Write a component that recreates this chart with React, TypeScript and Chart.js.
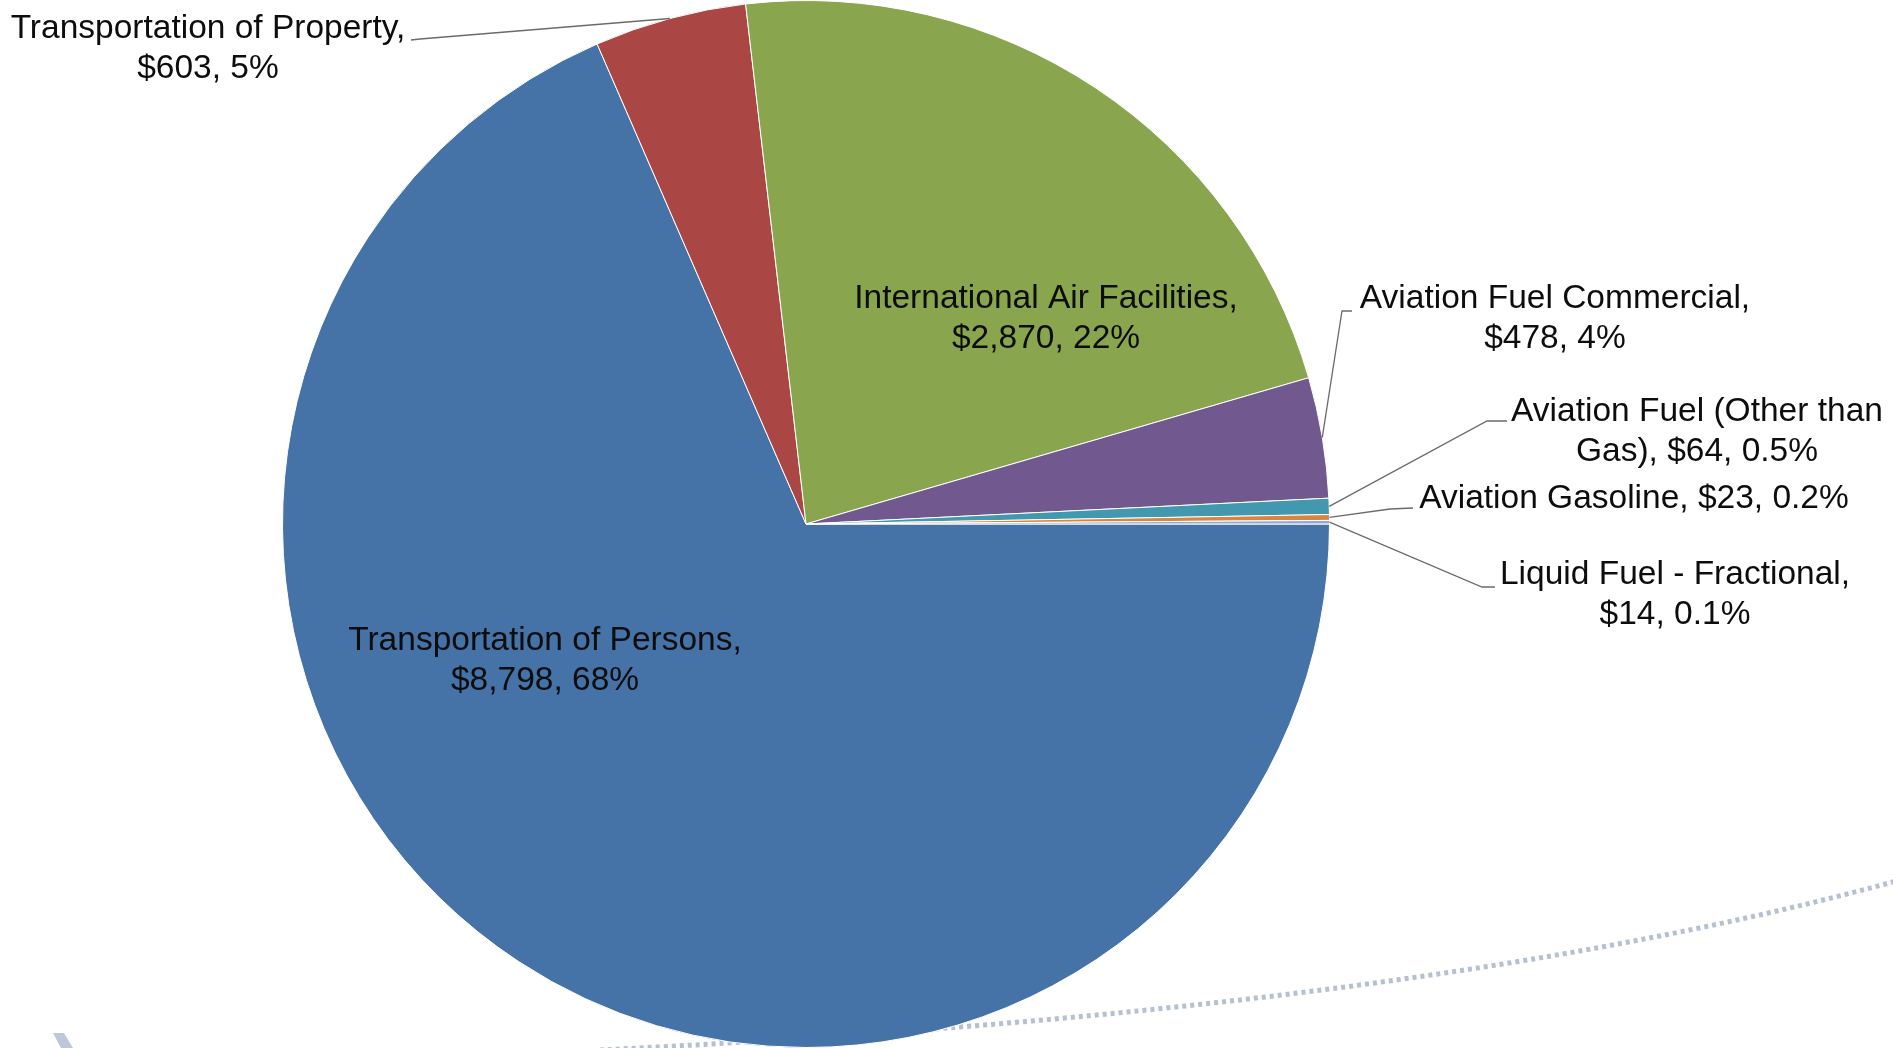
import React, { useEffect, useRef } from "react";
import { Chart, registerables } from "chart.js";

Chart.register(...registerables);

const categories = [
  "Transportation of Persons",
  "Transportation of Property",
  "International Air Facilities",
  "Aviation Fuel Commercial",
  "Aviation Fuel (Other than Gas)",
  "Aviation Gasoline",
  "Liquid Fuel - Fractional",
];
const values = [8798, 603, 2870, 478, 64, 23, 14];
const percentLabels = ["68%", "5%", "22%", "4%", "0.5%", "0.2%", "0.1%"];
const colors = ["#4572A7", "#AA4643", "#89A54E", "#71588F", "#4198AF", "#DB843D", "#93A9CF"];

// label text lines (as Excel wrapped them)
const labelLines: string[][] = [
  ["Transportation of Persons,", "$8,798, 68%"],
  ["Transportation of Property,", "$603, 5%"],
  ["International Air Facilities,", "$2,870, 22%"],
  ["Aviation Fuel Commercial,", "$478, 4%"],
  ["Aviation Fuel (Other than", "Gas), $64, 0.5%"],
  ["Aviation Gasoline, $23, 0.2%"],
  ["Liquid Fuel - Fractional,", "$14, 0.1%"],
];

// layout: label centre x, first-line y, and leader-line start points (null = inside label)
const labelLayout: { x: number; y: number; leader: number[][] | null }[] = [
  { x: 545, y: 641, leader: null },
  { x: 208, y: 29, leader: [[411, 40], [420, 39]] },
  { x: 1046, y: 299, leader: null },
  { x: 1555, y: 299, leader: [[1352, 311], [1342, 311]] },
  { x: 1697, y: 412, leader: [[1507, 421], [1487, 421]] },
  { x: 1634, y: 499, leader: [[1413, 508], [1390, 509]] },
  { x: 1675, y: 575, leader: [[1495, 587], [1482, 587]] },
];

const FONT = '33.5px "Liberation Sans", Arial, sans-serif';
const LINE_H = 40;

const decorPlugin = {
  id: "decor",
  beforeDatasetsDraw(chart: any) {
    const ctx = chart.ctx;
    ctx.save();
    // dotted template curve
    ctx.strokeStyle = "#B3C1D1";
    ctx.lineWidth = 5;
    ctx.setLineDash([4, 4]);
    ctx.beginPath();
    ctx.moveTo(600, 1050);
    ctx.bezierCurveTo(1000, 1030, 1500, 990, 1900, 880);
    ctx.stroke();
    ctx.setLineDash([]);
    // slanted shape bottom-left
    ctx.fillStyle = "#BCC8D6";
    ctx.beginPath();
    ctx.moveTo(53, 1033);
    ctx.lineTo(64, 1033);
    ctx.lineTo(73, 1048);
    ctx.lineTo(61, 1048);
    ctx.closePath();
    ctx.fill();
    ctx.restore();
  },
};

const labelPlugin = {
  id: "pieLabels",
  afterDraw(chart: any) {
    const ctx = chart.ctx;
    const arcs = chart.getDatasetMeta(0).data;
    ctx.save();
    ctx.font = FONT;
    ctx.fillStyle = "#0d0d0d";
    ctx.textAlign = "center";
    ctx.textBaseline = "middle";
    arcs.forEach((arc: any, i: number) => {
      const lay = labelLayout[i];
      const lines = labelLines[i];
      lines.forEach((t, k) => ctx.fillText(t, lay.x, lay.y + k * LINE_H));
      if (lay.leader) {
        const p = arc.getProps(["x", "y", "startAngle", "endAngle", "outerRadius"], true);
        const mid = (p.startAngle + p.endAngle) / 2;
        const ax = p.x + Math.cos(mid) * p.outerRadius;
        const ay = p.y + Math.sin(mid) * p.outerRadius;
        ctx.strokeStyle = "#6b6b6b";
        ctx.lineWidth = 1.3;
        ctx.beginPath();
        ctx.moveTo(lay.leader[0][0], lay.leader[0][1]);
        for (let j = 1; j < lay.leader.length; j++) ctx.lineTo(lay.leader[j][0], lay.leader[j][1]);
        ctx.lineTo(ax, ay);
        ctx.stroke();
      }
    });
    ctx.restore();
  },
};

export default function App() {
  const ref = useRef<HTMLCanvasElement | null>(null);
  useEffect(() => {
    if (!ref.current) return;
    const chart = new Chart(ref.current, {
      type: "pie",
      data: {
        labels: categories,
        datasets: [
          {
            data: values,
            backgroundColor: colors,
            borderColor: "#ffffff",
            borderWidth: 1,
          },
        ],
      },
      options: {
        animation: false,
        responsive: false,
        rotation: 90,
        layout: { padding: { left: 282, right: 563, top: 0, bottom: 0 } },
        plugins: {
          legend: { display: false },
          tooltip: { enabled: false },
        },
      },
      plugins: [decorPlugin, labelPlugin],
    });
    return () => chart.destroy();
  }, []);
  return (
    <div style={{ position: "fixed", left: 0, top: 0, width: 1893, height: 1048, background: "#fff" }}>
      <canvas ref={ref} width={1893} height={1048} style={{ width: 1893, height: 1048, display: "block" }} />
    </div>
  );
}
